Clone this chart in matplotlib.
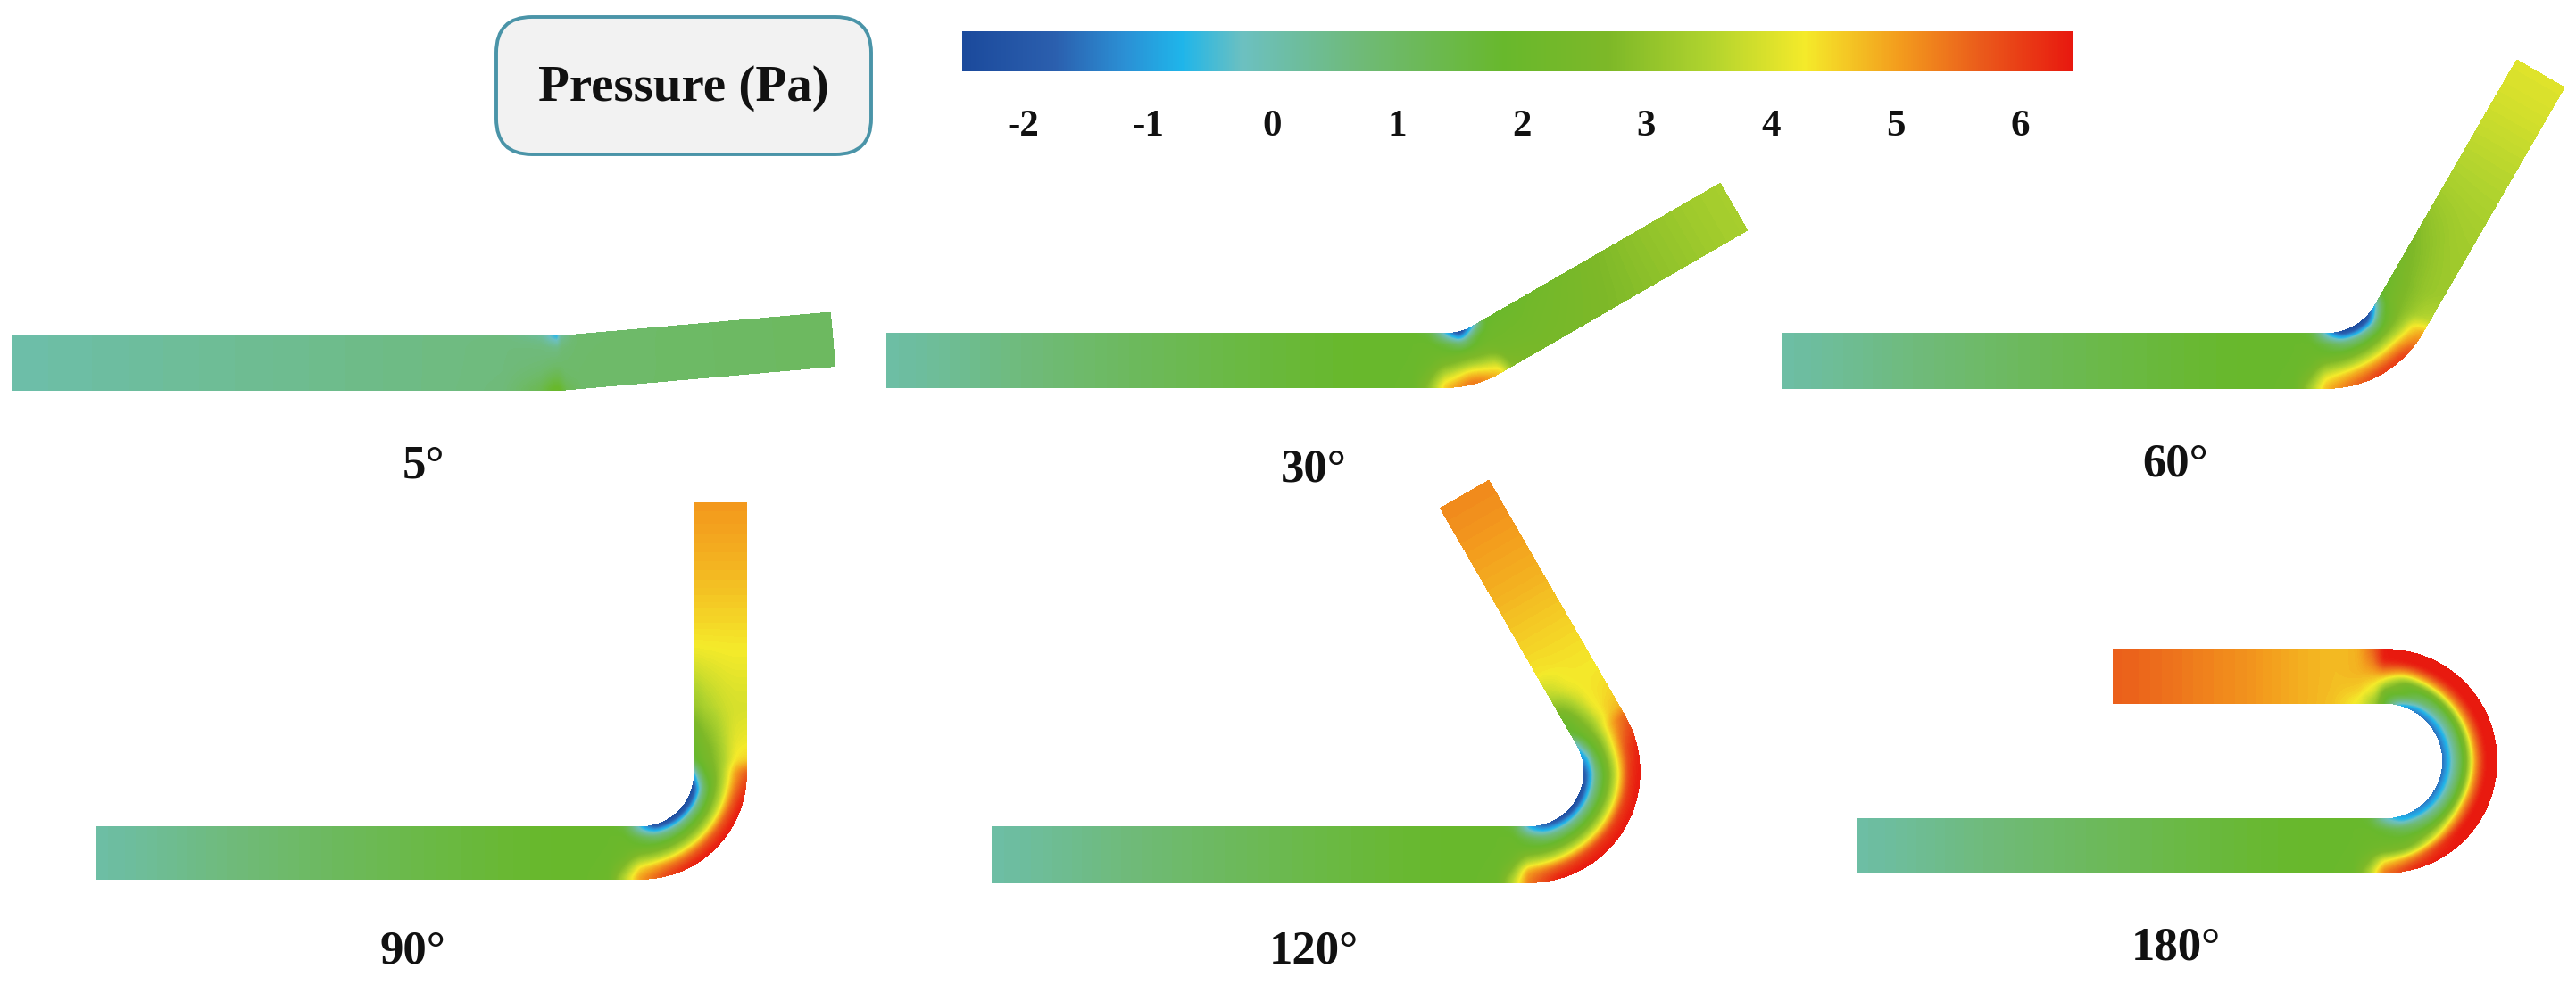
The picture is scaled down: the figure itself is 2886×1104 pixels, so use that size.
import numpy as np
import matplotlib
matplotlib.use("Agg")
import matplotlib.pyplot as plt
from matplotlib.colors import LinearSegmentedColormap, Normalize
from matplotlib.cm import ScalarMappable
from matplotlib.patches import FancyBboxPatch

W, H = 2886, 1104
plt.rcParams['font.family'] = ['Liberation Serif', 'DejaVu Serif']
plt.rcParams['font.weight'] = 'bold'

# colour scale
p_min, p_max = -2.49, 6.43
scale_values = [-2.49, -1.75, -1.2, -0.73, -0.24, 0.7, 1.86, 2.7, 3.5, 4.28, 5.04, 5.7, 6.43]
scale_colors = ['#1b4a9c', '#2b5fae', '#2b8fd4', '#1fb5ea', '#6cc0c0', '#6fba78', '#68b82c',
                '#7db828', '#b0d32e', '#f4ea2a', '#f39c1d', '#ea5a1b', '#e8180f']
bar_ticks = [-2, -1, 0, 1, 2, 3, 4, 5, 6]
bar_labels = ['-2', '-1', '0', '1', '2', '3', '4', '5', '6']

# positions across the channel, inner wall (0) to outer wall (1)
across = [0, 0.1, 0.22, 0.4, 0.6, 0.8, 1.0]

inlet_far = [0, 0.3, 0.55, 0.8, 0.94]
inlet_far_p = [0.05, 0.8, 1.35, 1.85, 1.9]

# pressure at stations along each pipe (inlet rows, then bend rows, then outlet rows)
inlet_5 = [0, 0.5, 0.9, 0.97]
bend_5 = [0, 5]
outlet_5 = [0.06, 1]
p_5 = [[0.05] * 7,
       [0.4] * 7,
       [0.65] * 7,
       [0.3, 0.5, 0.65, 0.7, 0.8, 1.0, 1.3],
       [-0.9, -0.3, 0.5, 0.75, 1.0, 1.5, 2.1],
       [0.3, 0.5, 0.75, 0.85, 0.9, 1.0, 1.3],
       [0.9] * 7,
       [1.1] * 7]

bend_30 = [0, 15, 30]
outlet_30 = [0.05, 0.2, 0.6, 1]
p_30 = [[1.5, 1.8, 1.95, 2.0, 2.1, 2.4, 2.9],
        [-0.8, 0.3, 1.6, 2.1, 2.7, 3.8, 4.7],
        [-2.5, -1.4, 0.6, 2.1, 3.1, 4.6, 5.6],
        [-0.8, 0.7, 1.8, 2.2, 2.7, 3.8, 4.7],
        [1.9, 2.0, 2.1, 2.2, 2.3, 2.5, 2.7],
        [2.1, 2.15, 2.2, 2.25, 2.3, 2.35, 2.4],
        [2.9] * 7,
        [3.4] * 7]

bend_60 = [0, 15, 30, 45, 60]
outlet_60 = [0.05, 0.15, 0.5, 1]
p_60 = [[1.6, 1.8, 1.95, 2.0, 2.1, 2.6, 3.3],
        [-0.8, 0.2, 1.5, 2.0, 3.0, 4.2, 4.8],
        [-2.4, -1.2, 0.7, 2.0, 3.3, 4.8, 5.6],
        [-2.5, -1.6, 0.4, 2.1, 3.5, 5.1, 6.1],
        [-2.5, -1.5, 0.5, 2.2, 3.6, 5.1, 6.1],
        [-0.9, 0.6, 1.8, 2.5, 3.2, 4.4, 4.9],
        [1.9, 2.1, 2.4, 2.7, 3.0, 3.4, 3.6],
        [2.3, 2.45, 2.6, 2.8, 3.0, 3.1, 3.15],
        [3.4] * 7,
        [4.1] * 7]

bend_90 = [0, 15, 30, 45, 60, 75, 90]
outlet_90 = [0.05, 0.12, 0.25, 0.47, 0.7, 1]
p_90 = [[1.6, 1.8, 1.95, 2.0, 2.15, 2.8, 3.6],
        [-0.8, 0.1, 1.4, 2.0, 3.1, 4.5, 5.1],
        [-2.2, -1.1, 0.7, 2.0, 3.4, 5.2, 6.0],
        [-2.5, -1.4, 0.5, 2.1, 3.6, 5.5, 6.4],
        [-2.5, -1.6, 0.5, 2.2, 3.7, 5.7, 6.43],
        [-2.5, -1.6, 0.5, 2.2, 3.8, 5.7, 6.43],
        [-2.4, -1.3, 0.7, 2.4, 3.8, 5.5, 6.4],
        [-1.0, 0.7, 1.8, 2.6, 3.7, 5.0, 5.7],
        [1.6, 2.0, 2.3, 2.8, 3.5, 4.3, 4.5],
        [2.0, 2.3, 2.6, 3.0, 3.6, 4.1, 4.2],
        [3.1, 3.2, 3.4, 3.6, 3.8, 3.9, 3.9],
        [4.3] * 7,
        [4.7] * 7,
        [5.1] * 7]

bend_120 = [0, 15, 30, 45, 60, 75, 90, 105, 120]
outlet_120 = [0.04, 0.1, 0.2, 0.3, 0.6, 1]
p_120 = [[1.6, 1.8, 1.95, 2.0, 2.15, 2.8, 3.6],
         [-0.9, 0.0, 1.4, 2.0, 3.3, 5.0, 5.4],
         [-1.8, -0.9, 0.7, 2.0, 3.6, 5.6, 6.4],
         [-2.2, -1.2, 0.5, 2.1, 3.8, 5.9, 6.43],
         [-2.5, -1.4, 0.4, 2.1, 3.9, 6.0, 6.43],
         [-2.5, -1.4, 0.4, 2.1, 3.9, 6.0, 6.43],
         [-2.4, -1.3, 0.4, 2.1, 3.9, 6.0, 6.43],
         [-2.0, -1.1, 0.6, 2.2, 4.0, 6.0, 6.43],
         [-1.2, -0.5, 1.3, 2.6, 4.3, 5.8, 6.3],
         [-0.4, 1.1, 2.0, 2.9, 4.2, 5.1, 5.6],
         [1.6, 1.9, 2.3, 3.0, 4.0, 4.6, 4.8],
         [2.0, 2.2, 2.6, 3.4, 4.2, 4.4, 4.5],
         [3.6, 3.7, 3.9, 4.2, 4.3, 4.3, 4.3],
         [4.35] * 7,
         [4.8] * 7,
         [5.25] * 7]

bend_180 = [0, 15, 30, 45, 60, 75, 90, 105, 120, 135, 150, 165, 180]
outlet_180 = [0.04, 0.1, 0.2, 0.5, 1]
p_180 = [[1.7, 1.8, 1.95, 2.0, 2.1, 2.6, 3.4],
         [-0.3, 0.6, 1.7, 2.0, 2.4, 4.4, 5.5],
         [-1.0, -0.5, 1.1, 1.9, 2.6, 5.2, 6.3],
         [-1.3, -0.8, 0.6, 1.9, 3.6, 6.0, 6.43],
         [-1.5, -0.9, 0.3, 1.9, 4.5, 6.4, 6.43],
         [-1.6, -0.9, 0.2, 1.9, 5.0, 6.43, 6.43],
         [-1.6, -0.9, 0.2, 1.9, 5.0, 6.43, 6.43],
         [-1.6, -0.9, 0.2, 1.9, 5.0, 6.43, 6.43],
         [-1.6, -0.9, 0.2, 1.9, 5.0, 6.43, 6.43],
         [-1.6, -0.9, 0.2, 1.9, 5.0, 6.43, 6.43],
         [-1.6, -0.8, 0.4, 1.9, 5.0, 6.43, 6.43],
         [-1.5, -0.6, 0.9, 2.0, 4.9, 6.43, 6.43],
         [-1.0, 0.6, 1.9, 2.2, 4.7, 6.43, 6.43],
         [1.6, 1.9, 2.2, 3.8, 5.3, 6.4, 6.43],
         [3.2, 3.4, 3.9, 4.4, 5.0, 5.4, 5.6],
         [4.2, 4.3, 4.5, 4.7, 4.8, 4.8, 4.8],
         [4.7] * 7,
         [5.1] * 7,
         [5.7] * 7]

# pipe layout in image pixels: x0, bend x, top y, width, inner radius, outlet length
pipes = [
    (15, 624, 377, 60, 60, 302, 5, inlet_5, bend_5, outlet_5, p_5),
    (994, 1620, 374, 60, 60, 320, 30, None, bend_30, outlet_30, p_30),
    (1997, 2607, 374, 61, 62, 318, 60, None, bend_60, outlet_60, p_60),
    (108, 718, 927, 58, 60, 303, 90, None, bend_90, outlet_90, p_90),
    (1112, 1713, 927, 62, 62, 305, 120, None, bend_120, outlet_120, p_120),
    (2081, 2672, 918, 60, 65, 304, 180, None, bend_180, outlet_180, p_180),
]

angle_labels = ['5°', '30°', '60°', '90°', '120°', '180°']
label_x = [474, 1472, 2437, 462, 1472, 2438]
label_y = [523, 526, 521, 1067, 1067, 1063]


def pipe_xy(s, n, x0, xb, ytop, w, ri, out_len, turn):
    # s is the distance along the centre line, n the position across
    s, n = np.meshgrid(s, n, indexing='ij')
    cx, cy = xb, ytop - ri
    r = ri + n * w
    lin = xb - x0
    rc = ri + w / 2
    arc = np.radians(turn) * rc
    t = np.clip((s - lin) / rc, 0, np.radians(turn))
    d = np.clip(s - lin - arc, 0, None)
    x = np.where(s <= lin, x0 + s, cx + r * np.sin(t) + d * np.cos(t))
    y = np.where(s <= lin, ytop + n * w, cy + r * np.cos(t) - d * np.sin(t))
    return x, y


def refine(z, k, axis):
    # drawing grid between the stations
    idx = np.arange(z.shape[axis])
    fine = np.linspace(0, idx[-1], idx[-1] * k + 1)
    return np.apply_along_axis(lambda v: np.interp(fine, idx, v), axis, z)


def soften(z, axis, passes):
    # the reference is a soft picture
    for _ in range(passes):
        z = np.apply_along_axis(
            lambda v: np.convolve(np.r_[v[0], v, v[-1]], [0.25, 0.5, 0.25], mode='valid'), axis, z)
    return z


cmap = LinearSegmentedColormap.from_list(
    'pressure',
    [((v - p_min) / (p_max - p_min), c) for v, c in zip(scale_values, scale_colors)],
    N=512)
norm = Normalize(p_min, p_max)
levels = np.linspace(p_min, p_max, 200)

fig = plt.figure(figsize=(W / 100, H / 100), dpi=100, facecolor='white')
ax = fig.add_axes([0, 0, 1, 1])
ax.set_xlim(0, W)
ax.set_ylim(H, 0)
ax.axis('off')

for x0, xb, ytop, w, ri, out_len, turn, inlet, bends, outlets, table in pipes:
    if inlet is None:
        inlet = inlet_far + [0.97]
        rows = [[v] * 7 for v in inlet_far_p] + table
    else:
        rows = table
    lin = xb - x0
    rc = ri + w / 2
    arc = np.radians(turn) * rc
    s = [f * lin for f in inlet] + [lin + np.radians(b) * rc for b in bends] + [lin + arc + f * out_len for f in outlets]
    s_fine = refine(np.array(s), 6, 0)
    n_fine = refine(np.array(across), 6, 0)
    Z = refine(refine(np.array(rows, dtype=float), 6, 0), 6, 1)
    Z = soften(soften(Z, 0, 3), 1, 4)
    X, Y = pipe_xy(s_fine, n_fine, x0, xb, ytop, w, ri, out_len, turn)
    cs = ax.contourf(X, Y, Z, levels=levels, cmap=cmap, norm=norm, extend='both')
    cs.set_edgecolor('face')
    cs.set_linewidth(0.5)

for txt, lx, ly in zip(angle_labels, label_x, label_y):
    ax.text(lx, ly, txt, ha='center', va='center', fontsize=38, fontweight='bold', color='#111111')

# legend box
box = FancyBboxPatch((556, 19), 420, 154, boxstyle='round,pad=0,rounding_size=40',
                     facecolor='#f2f2f2', edgecolor='#4a94a8', linewidth=2.8)
ax.add_patch(box)
ax.text(766, 99, 'Pressure (Pa)', ha='center', va='center', fontsize=41, fontweight='bold',
        color='#111111')

# colour bar
cax = fig.add_axes([1078 / W, 1 - 80 / H, (2323 - 1078) / W, 45 / H])
cb = fig.colorbar(ScalarMappable(norm=norm, cmap=cmap), cax=cax, orientation='horizontal', ticks=bar_ticks)
cb.set_ticklabels(bar_labels)
cb.outline.set_visible(False)
cax.tick_params(axis='x', length=0, pad=31, labelsize=31, colors='#111111')

fig.savefig('out.png', dpi=100)
